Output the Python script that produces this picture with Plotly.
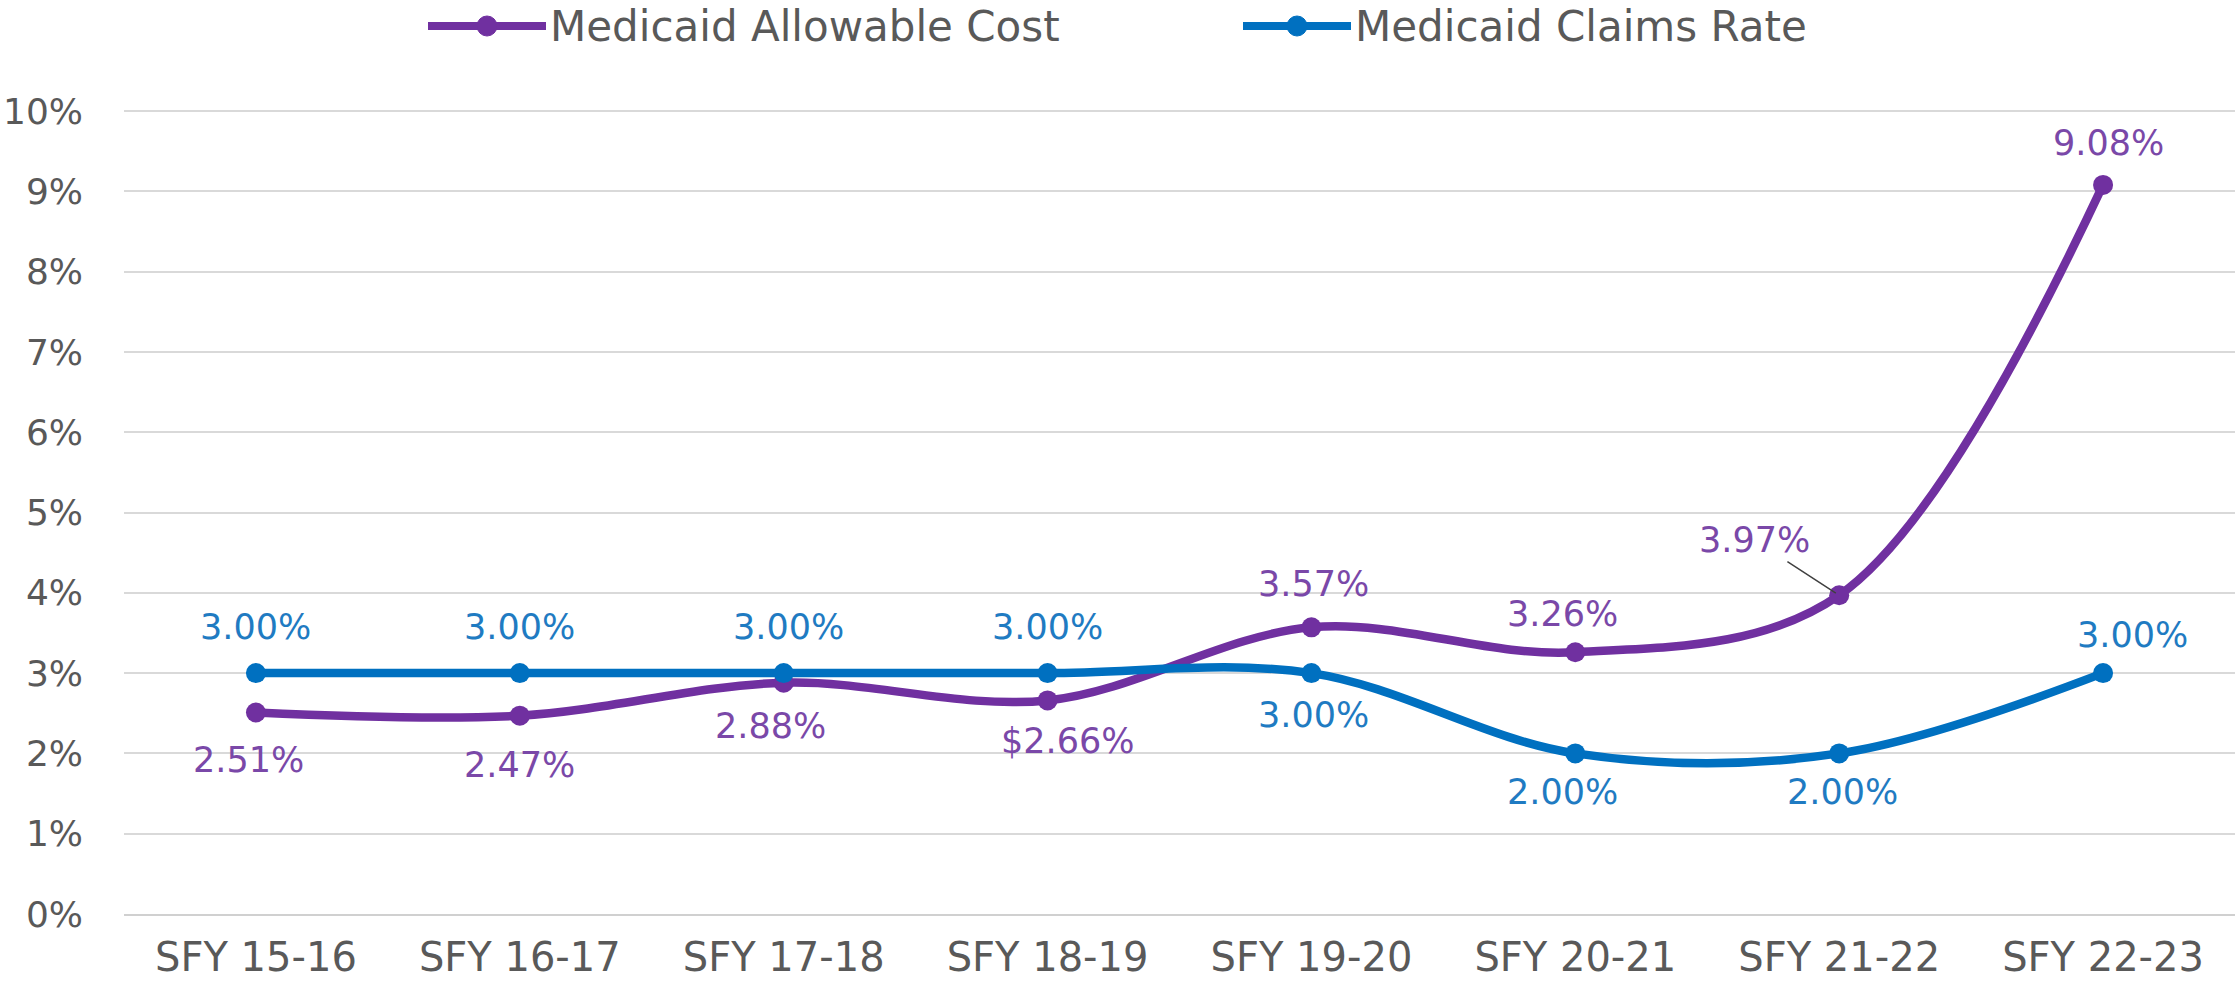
import plotly.graph_objects as go

# ---- data ----
categories = ["SFY 15-16", "SFY 16-17", "SFY 17-18", "SFY 18-19",
              "SFY 19-20", "SFY 20-21", "SFY 21-22", "SFY 22-23"]
allowable_cost = [2.51, 2.47, 2.88, 2.66, 3.57, 3.26, 3.97, 9.08]
claims_rate = [3.00, 3.00, 3.00, 3.00, 3.00, 2.00, 2.00, 3.00]
allowable_labels = ["2.51%", "2.47%", "2.88%", "$2.66%", "3.57%", "3.26%", "3.97%", "9.08%"]
claims_labels = ["3.00%", "3.00%", "3.00%", "3.00%", "3.00%", "2.00%", "2.00%", "3.00%"]
y_ticks = [0, 1, 2, 3, 4, 5, 6, 7, 8, 9, 10]
y_tick_labels = ["0%", "1%", "2%", "3%", "4%", "5%", "6%", "7%", "8%", "9%", "10%"]
series_names = ["Medicaid Allowable Cost", "Medicaid Claims Rate"]

# ---- styles ----
PURPLE = "#7030A0"
BLUE = "#0070C0"
PURPLE_TXT = "#7A48A8"
BLUE_TXT = "#1F7BC2"
GRAY = "#595959"
FONT = "DejaVu Sans"
W, H = 2235, 983
ML, MR, MT, MB = 124, 0, 95, 69
PW, PH = W - ML - MR, H - MT - MB

def fx(px):
    return (px - ML) / PW

def fy(py):
    return (H - MB - py) / PH

# label pixel offsets (dx right, dy up) relative to each point
allow_off = [(-7, -48), (0, -49), (-13, -43), (20, -41), (2, 43), (-13, 38), None, (5, 42)]
claims_off = [(0, 46), (0, 46), (5, 46), (0, 46), (2, -42), (-13, -39), (3, -39), (29, 38)]

fig = go.Figure()
fig.add_trace(go.Scatter(
    x=categories, y=allowable_cost, name=series_names[0], showlegend=False,
    mode="lines+markers", line=dict(color=PURPLE, width=8.5, shape="spline", smoothing=1),
    marker=dict(color=PURPLE, size=20), hoverinfo="skip"))
fig.add_trace(go.Scatter(
    x=categories, y=claims_rate, name=series_names[1], showlegend=False,
    mode="lines+markers", line=dict(color=BLUE, width=8.5, shape="spline", smoothing=1),
    marker=dict(color=BLUE, size=20), hoverinfo="skip"))

annotations = []
for i, (c, v, t) in enumerate(zip(categories, allowable_cost, allowable_labels)):
    off = allow_off[i]
    if off is None:
        annotations.append(dict(
            x=c, y=v, xref="x", yref="y", text=t, showarrow=True,
            arrowhead=0, arrowwidth=1.5, arrowcolor="#404040",
            ax=-85, ay=-55, standoff=4,
            font=dict(family=FONT, size=35, color=PURPLE_TXT)))
    else:
        annotations.append(dict(
            x=c, y=v, xref="x", yref="y", text=t, showarrow=False,
            xshift=off[0], yshift=off[1],
            font=dict(family=FONT, size=35, color=PURPLE_TXT)))
for i, (c, v, t) in enumerate(zip(categories, claims_rate, claims_labels)):
    off = claims_off[i]
    annotations.append(dict(
        x=c, y=v, xref="x", yref="y", text=t, showarrow=False,
        xshift=off[0], yshift=off[1],
        font=dict(family=FONT, size=35, color=BLUE_TXT)))

# custom legend (long line symbols like the original)
shapes = []
legend_items = [(series_names[0], PURPLE, 428, 546), (series_names[1], BLUE, 1243, 1351)]
LY = 26
for name, col, x0, x1 in legend_items:
    shapes.append(dict(type="line", xref="paper", yref="paper",
                       x0=fx(x0), x1=fx(x1), y0=fy(LY), y1=fy(LY),
                       line=dict(color=col, width=8)))
    cx = (x0 + x1) / 2
    shapes.append(dict(type="circle", xref="paper", yref="paper",
                       x0=fx(cx - 10), x1=fx(cx + 10), y0=fy(LY + 10), y1=fy(LY - 10),
                       fillcolor=col, line=dict(color=col, width=1)))
    annotations.append(dict(x=fx(x1 + 2), y=fy(LY), xref="paper", yref="paper",
                            text=name, showarrow=False, xanchor="left", yanchor="middle",
                            font=dict(family=FONT, size=42, color=GRAY)))

fig.update_layout(
    width=W, height=H,
    margin=dict(l=ML, r=MR, t=MT, b=MB, autoexpand=False),
    paper_bgcolor="white", plot_bgcolor="white",
    font=dict(family=FONT, color=GRAY),
    showlegend=False,
    annotations=annotations,
    shapes=shapes,
)
fig.update_xaxes(
    type="category", range=[-0.5, 7.5], showgrid=False, automargin=False,
    showline=True, linecolor="#D0D0D0", linewidth=2,
    ticks="", tickfont=dict(family=FONT, size=40, color=GRAY),
    ticklabelstandoff=7, fixedrange=True)
fig.update_yaxes(
    range=[0, 10.2], tickvals=y_ticks, ticktext=y_tick_labels, automargin=False,
    showgrid=True, gridcolor="#D9D9D9", gridwidth=2,
    zeroline=False, showline=False, ticks="",
    tickfont=dict(family=FONT, size=36, color=GRAY),
    ticklabelstandoff=40, fixedrange=True)

fig.write_html("out.html", config={"displayModeBar": False},
               post_script="document.body.style.margin='0px';document.body.style.overflow='hidden';")
